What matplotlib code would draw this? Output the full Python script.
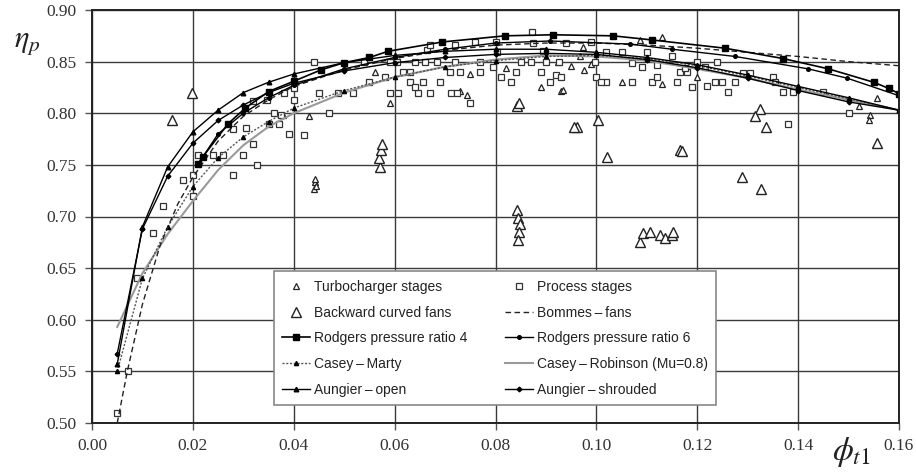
import matplotlib
matplotlib.use("Agg")
import matplotlib.pyplot as plt

plt.rcParams['mathtext.fontset'] = 'stix'

# ---------------- data ----------------
turbo_phi = [0.0442, 0.0440, 0.0445, 0.0443, 0.043, 0.0379, 0.0561, 0.0591, 0.073, 0.0744, 0.075,
             0.082, 0.089, 0.093, 0.0924, 0.0968, 0.095, 0.0975, 0.099, 0.0974, 0.1087, 0.113,
             0.105, 0.113, 0.120, 0.0934, 0.152, 0.1543, 0.154, 0.1556]
turbo_eta = [0.733, 0.727, 0.730, 0.736, 0.797, 0.798, 0.840, 0.810, 0.822, 0.818, 0.838,
             0.844, 0.825, 0.822, 0.850, 0.855, 0.846, 0.842, 0.848, 0.864, 0.871, 0.874,
             0.830, 0.828, 0.835, 0.823, 0.807, 0.798, 0.793, 0.815]

fans_phi = [0.0159, 0.0198, 0.0571, 0.0570, 0.0573, 0.0575, 0.0843, 0.0845, 0.0848, 0.0847, 0.0844,
            0.0843, 0.0847, 0.0961, 0.0955, 0.1003, 0.1021, 0.1166, 0.1170, 0.1087, 0.1093, 0.1107,
            0.1127, 0.1137, 0.1150, 0.1152, 0.1289, 0.1327, 0.1325, 0.1315, 0.1337, 0.1557]
fans_eta = [0.793, 0.820, 0.748, 0.757, 0.764, 0.770, 0.706, 0.699, 0.693, 0.685, 0.677,
            0.807, 0.810, 0.787, 0.787, 0.793, 0.758, 0.764, 0.763, 0.675, 0.684, 0.685,
            0.682, 0.679, 0.682, 0.685, 0.738, 0.727, 0.804, 0.797, 0.787, 0.771]

proc_phi = [0.005, 0.0071, 0.0089, 0.0121, 0.0141, 0.020, 0.018, 0.020, 0.021, 0.024, 0.026, 0.028,
            0.030, 0.0327, 0.028, 0.0305, 0.032, 0.035, 0.037, 0.039, 0.032, 0.0347, 0.038, 0.036,
            0.0375, 0.042, 0.047, 0.045, 0.0488, 0.0518, 0.044, 0.040, 0.040,
            0.059, 0.0607, 0.0647, 0.067, 0.0712, 0.0724, 0.075,
            0.063, 0.0657, 0.069, 0.064, 0.083, 0.055, 0.058,
            0.0617, 0.063, 0.071, 0.073, 0.077, 0.0795, 0.084, 0.089, 0.092,
            0.054, 0.059, 0.0605, 0.064, 0.066, 0.0685, 0.072, 0.077, 0.085, 0.087, 0.090, 0.0925,
            0.0665, 0.067, 0.072, 0.076, 0.080, 0.0803, 0.0875, 0.0895, 0.094, 0.0873,
            0.0908, 0.093, 0.081, 0.0998, 0.100, 0.102, 0.102, 0.105, 0.110, 0.107, 0.111,
            0.112, 0.116, 0.119, 0.107, 0.109, 0.112, 0.115, 0.1166, 0.118, 0.099,
            0.120, 0.1176, 0.124, 0.122, 0.1235, 0.125, 0.126, 0.1275, 0.129, 0.1305,
            0.135, 0.1355, 0.137, 0.139, 0.138, 0.145, 0.150, 0.101, 0.1215]
proc_eta = [0.510, 0.550, 0.640, 0.684, 0.710, 0.720, 0.735, 0.740, 0.760, 0.760, 0.760, 0.740,
            0.760, 0.750, 0.785, 0.786, 0.770, 0.790, 0.790, 0.780, 0.812, 0.813, 0.820, 0.800,
            0.798, 0.779, 0.800, 0.820, 0.820, 0.820, 0.850, 0.824, 0.813,
            0.820, 0.820, 0.820, 0.820, 0.820, 0.820, 0.810,
            0.830, 0.830, 0.830, 0.825, 0.830, 0.830, 0.835,
            0.840, 0.840, 0.840, 0.840, 0.840, 0.845, 0.840, 0.840, 0.837,
            0.850, 0.850, 0.850, 0.850, 0.850, 0.850, 0.850, 0.850, 0.850, 0.850, 0.850, 0.850,
            0.861, 0.866, 0.866, 0.869, 0.869, 0.859, 0.868, 0.860, 0.868, 0.879,
            0.830, 0.835, 0.835, 0.850, 0.835, 0.830, 0.859, 0.859, 0.859, 0.830, 0.830,
            0.835, 0.830, 0.825, 0.849, 0.845, 0.847, 0.855, 0.840, 0.840, 0.869,
            0.850, 0.844, 0.850, 0.826, 0.830, 0.830, 0.821, 0.830, 0.839, 0.839,
            0.835, 0.830, 0.821, 0.821, 0.790, 0.821, 0.800, 0.830, 0.845]

bommes_phi = [0.005, 0.007, 0.010, 0.0135, 0.017, 0.020, 0.025, 0.030, 0.035, 0.040, 0.050, 0.060,
              0.070, 0.080, 0.090, 0.100, 0.110, 0.120, 0.130, 0.140, 0.150, 0.160]
bommes_eta = [0.500, 0.550, 0.615, 0.672, 0.712, 0.738, 0.773, 0.797, 0.813, 0.826, 0.842, 0.853,
              0.861, 0.866, 0.868, 0.868, 0.866, 0.863, 0.859, 0.855, 0.850, 0.846]

rod4_phi = [0.021, 0.022, 0.027, 0.0304, 0.035, 0.040, 0.0454, 0.050, 0.055, 0.0587, 0.0694, 0.0819,
            0.0914, 0.1033, 0.111, 0.1255, 0.137, 0.146, 0.155, 0.158, 0.160]
rod4_eta = [0.751, 0.758, 0.790, 0.805, 0.821, 0.831, 0.842, 0.849, 0.854, 0.860, 0.869, 0.875,
            0.876, 0.875, 0.871, 0.863, 0.853, 0.843, 0.830, 0.824, 0.819]

rod6_phi = [0.022, 0.025, 0.030, 0.035, 0.040, 0.050, 0.060, 0.070, 0.080, 0.0908, 0.1067,
            0.115, 0.1275, 0.142, 0.1497, 0.160]
rod6_eta = [0.758, 0.780, 0.800, 0.815, 0.827, 0.843, 0.854, 0.862, 0.868, 0.870, 0.867,
            0.862, 0.855, 0.843, 0.834, 0.817]

cm_phi = [0.005, 0.010, 0.015, 0.020, 0.025, 0.030, 0.035, 0.040, 0.050, 0.060, 0.070, 0.080,
          0.090, 0.100, 0.110, 0.120, 0.130, 0.140, 0.150, 0.160]
cm_eta = [0.550, 0.640, 0.690, 0.729, 0.757, 0.777, 0.792, 0.805, 0.822, 0.835, 0.845, 0.851,
          0.855, 0.856, 0.853, 0.846, 0.836, 0.825, 0.814, 0.803]

cr_phi = [0.005, 0.010, 0.015, 0.020, 0.025, 0.030, 0.035, 0.040, 0.050, 0.060, 0.070, 0.080,
          0.090, 0.100, 0.110, 0.120, 0.130, 0.140, 0.150, 0.160]
cr_eta = [0.593, 0.645, 0.683, 0.715, 0.745, 0.769, 0.787, 0.800, 0.820, 0.835, 0.845, 0.852,
          0.856, 0.855, 0.851, 0.843, 0.834, 0.823, 0.813, 0.803]

ao_phi = [0.005, 0.010, 0.015, 0.020, 0.025, 0.030, 0.035, 0.040, 0.050, 0.060, 0.070, 0.080,
          0.090, 0.100, 0.110, 0.120, 0.130, 0.140, 0.150, 0.160]
ao_eta = [0.557, 0.690, 0.748, 0.782, 0.803, 0.820, 0.830, 0.838, 0.849, 0.856, 0.860, 0.862,
          0.862, 0.859, 0.854, 0.847, 0.837, 0.826, 0.815, 0.803]

as_phi = [0.005, 0.010, 0.015, 0.020, 0.025, 0.030, 0.035, 0.040, 0.050, 0.060, 0.070, 0.080,
          0.090, 0.100, 0.110, 0.120, 0.130, 0.140, 0.150, 0.160]
as_eta = [0.567, 0.688, 0.739, 0.771, 0.793, 0.808, 0.820, 0.829, 0.841, 0.849, 0.854, 0.857,
          0.858, 0.857, 0.852, 0.844, 0.834, 0.822, 0.811, 0.803]

x_ticks = [0.00, 0.02, 0.04, 0.06, 0.08, 0.10, 0.12, 0.14, 0.16]
y_ticks = [0.50, 0.55, 0.60, 0.65, 0.70, 0.75, 0.80, 0.85, 0.90]

# ---------------- figure ----------------
fig = plt.figure(figsize=(9.16, 4.72), dpi=100)
ax = fig.add_axes([92/916, 1-423/472, (899-92)/916, (423-10)/472])

gridc = '#3a3a3a'
ax.set_axisbelow(True)
ax.grid(True, color=gridc, lw=1.0)

h_turbo, = ax.plot(turbo_phi, turbo_eta, ls='none', marker='^', ms=4.5, mfc='white', mec='#222', mew=0.9,
                   label='Turbocharger stages')
h_fans, = ax.plot(fans_phi, fans_eta, ls='none', marker='^', ms=6.5, mfc='white', mec='#222', mew=1.0,
                  label='Backward curved fans')
h_proc, = ax.plot(proc_phi, proc_eta, ls='none', marker='s', ms=4.4, mfc='white', mec='#333', mew=0.9,
                  label='Process stages')

h_cr, = ax.plot(cr_phi, cr_eta, color='#9a9a9a', lw=1.5, label='Casey\u2009\u2013\u2009Robinson (Mu=0.8)')
h_cm, = ax.plot(cm_phi, cm_eta, color='#555', lw=1.0, ls=(0, (1.5, 1.2)), marker='^', ms=3,
                mfc='black', mec='black', label='Casey\u2009\u2013\u2009Marty')
h_bom, = ax.plot(bommes_phi, bommes_eta, color='#222', lw=1.0, ls=(0, (4, 2.5)), label='Bommes\u2009\u2013\u2009fans')
h_as, = ax.plot(as_phi, as_eta, color='black', lw=1.0, marker='D', ms=2.4, label='Aungier\u2009\u2013\u2009shrouded')
h_ao, = ax.plot(ao_phi, ao_eta, color='black', lw=1.0, marker='^', ms=3.3, label='Aungier\u2009\u2013\u2009open')
h_r6, = ax.plot(rod6_phi, rod6_eta, color='black', lw=1.0, marker='o', ms=2.6, label='Rodgers pressure ratio 6')
h_r4, = ax.plot(rod4_phi, rod4_eta, color='black', lw=1.2, marker='s', ms=4.2, label='Rodgers pressure ratio 4')

ax.set_xlim(0, 0.16)
ax.set_ylim(0.50, 0.90)
ax.set_xticks(x_ticks)
ax.set_yticks(y_ticks)
ax.set_xticklabels(['%.2f' % v for v in x_ticks], family='Liberation Serif', fontsize=12.5, color='#333')
ax.set_yticklabels(['%.2f' % v for v in y_ticks], family='Liberation Serif', fontsize=12.5, color='#333')
ax.tick_params(direction='out', length=5, width=1.0, color='#555', pad=6)
for s in ax.spines.values():
    s.set_color('#222')
    s.set_linewidth(1.4)

fig.text(27/916, 1-42/472, r'$\eta_p$', fontsize=22, ha='center', va='center', color='#222')
fig.text(851/916, 1-452/472, r'$\phi_{t1}$', fontsize=24, ha='center', va='center', color='#222')

handles = [h_turbo, h_fans, h_r4, h_cm, h_ao, h_proc, h_bom, h_r6, h_cr, h_as]
leg = ax.legend(handles=handles, ncol=2, loc='center', bbox_to_anchor=(0.4995, 0.205),
                prop={'family': 'Liberation Sans', 'size': 10}, frameon=True, fancybox=False,
                edgecolor='#888', framealpha=1.0, labelspacing=0.85, columnspacing=2.7,
                handlelength=2.0, handletextpad=0.3, borderpad=0.6, shadow=False)
leg.get_frame().set_linewidth(1.2)
for t in leg.get_texts():
    t.set_color('#222')

fig.savefig('out.png', dpi=100)
